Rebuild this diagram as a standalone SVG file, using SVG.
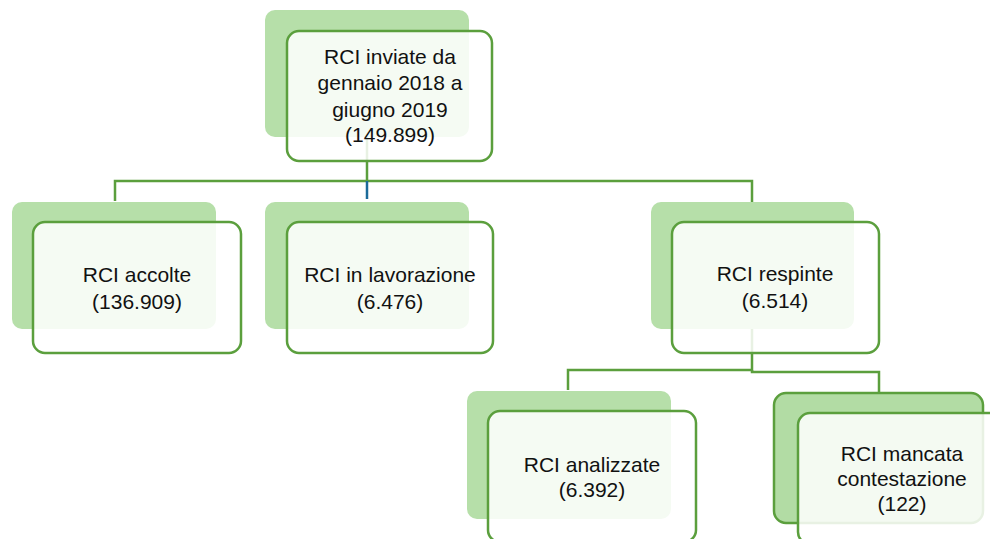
<svg xmlns="http://www.w3.org/2000/svg" width="990" height="539" viewBox="0 0 990 539">
<style>
.back{fill:#b6dfa9}
.back2{fill:#b2dca4;stroke:#5b9f3d;stroke-width:2.5}
.front{fill:#ffffff;fill-opacity:0.86;stroke:#5b9f3d;stroke-width:2.5}
.conn{fill:none;stroke:#5b9f3d;stroke-width:2.5}
.blue{fill:none;stroke:#1b6a99;stroke-width:2.5}
text{font-family:"Liberation Sans",Arial,sans-serif;font-size:21px;fill:#111111;text-anchor:middle}
</style>
<rect width="990" height="539" fill="#ffffff"/>
<g id="backs">
<rect class="back" x="265" y="10" width="204" height="127" rx="10"/>
<rect class="back" x="12" y="202" width="204" height="127" rx="10"/>
<rect class="back" x="265" y="202" width="204" height="127" rx="10"/>
<rect class="back" x="651" y="202" width="203" height="127" rx="10"/>
<rect class="back" x="467" y="391" width="204" height="128" rx="10"/>
<rect class="back2" x="774" y="393" width="209" height="130" rx="12"/>
</g>
<g id="connectors">
<path class="conn" d="M367 137V181"/>
<path class="conn" d="M115 201V181H752V202"/>
<path class="blue" d="M367 181V199"/>
<path class="conn" d="M752 329V370H568V390"/>
<path class="conn" d="M752 370V372H879V392"/>
</g>
<g id="n1">
<rect class="front" x="287" y="31" width="205" height="130" rx="12"/>
<text x="390" y="64">RCI inviate da</text>
<text x="390" y="90">gennaio 2018 a</text>
<text x="390" y="117">giugno 2019</text>
<text x="390" y="142">(149.899)</text>
</g>
<g id="n2">
<rect class="front" x="33" y="222" width="208" height="131" rx="12"/>
<text x="137" y="282">RCI accolte</text>
<text x="137" y="309">(136.909)</text>
</g>
<g id="n3">
<rect class="front" x="287" y="222" width="206" height="131" rx="12"/>
<text x="390" y="282">RCI in lavorazione</text>
<text x="390" y="309">(6.476)</text>
</g>
<g id="n4">
<rect class="front" x="672" y="222" width="207" height="131" rx="12"/>
<text x="775" y="281">RCI respinte</text>
<text x="775" y="308">(6.514)</text>
</g>
<g id="n5">
<rect class="front" x="488" y="411" width="208" height="131" rx="12"/>
<text x="592" y="472">RCI analizzate</text>
<text x="592" y="497">(6.392)</text>
</g>
<g id="n6">
<rect class="front" x="798" y="413" width="208" height="131" rx="12"/>
<text x="902" y="461">RCI mancata</text>
<text x="902" y="486">contestazione</text>
<text x="902" y="511">(122)</text>
</g>
</svg>
